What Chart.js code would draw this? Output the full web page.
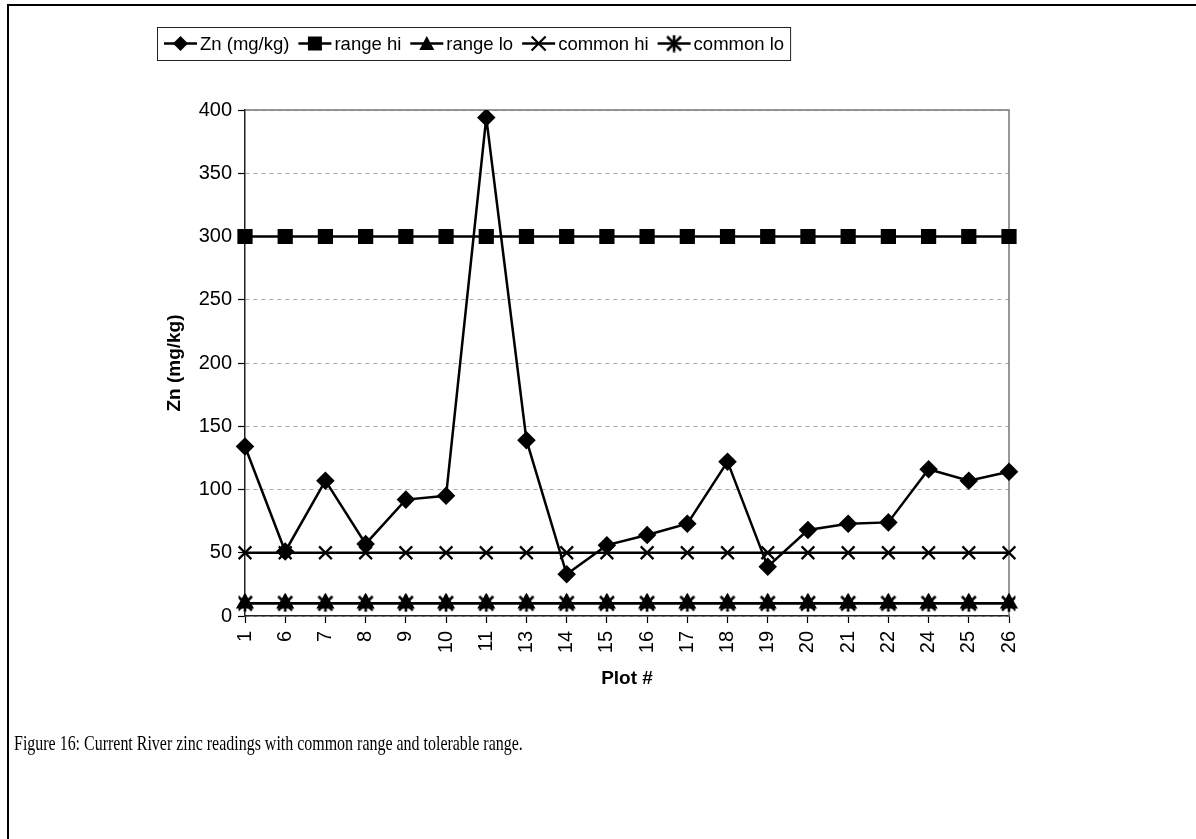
<!DOCTYPE html>
<html><head><meta charset="utf-8">
<script src="https://cdn.jsdelivr.net/npm/chart.js@4/dist/chart.umd.min.js"></script>
<style>
html,body{margin:0;padding:0;background:#fff;}
#wrap{position:relative;width:1196px;height:839px;overflow:hidden;background:#fff;}
#frameTop{position:absolute;left:7px;top:4px;width:1189px;height:2px;background:#000;}
#frameLeft{position:absolute;left:7px;top:4px;width:2px;height:835px;background:#000;}
canvas{position:absolute;left:0;top:0;}
#caption{position:absolute;left:14px;top:731px;font-family:"Liberation Serif","Times New Roman",serif;font-size:21px;white-space:nowrap;transform-origin:left top;transform:scaleX(0.76);color:#000;}
</style></head>
<body><div id="wrap"><div id="frameTop"></div><div id="frameLeft"></div>
<canvas id="c" width="1196" height="839"></canvas>
<div id="caption">Figure 16: Current River zinc readings with common range and tolerable range.</div></div>
<script>
const plots = ['1','6','7','8','9','10','11','13','14','15','16','17','18','19','20','21','22','24','25','26'];
const zn = [134,51,107,57,92,95,394,139,33,56,64,73,122,39,68,73,74,116,107,114];
const rangeHi = [300,300,300,300,300,300,300,300,300,300,300,300,300,300,300,300,300,300,300,300];
const rangeLo = [10,10,10,10,10,10,10,10,10,10,10,10,10,10,10,10,10,10,10,10];
const commonHi = [50,50,50,50,50,50,50,50,50,50,50,50,50,50,50,50,50,50,50,50];
const commonLo = [10,10,10,10,10,10,10,10,10,10,10,10,10,10,10,10,10,10,10,10];
const seriesNames = ['Zn (mg/kg)','range hi','range lo','common hi','common lo'];
const yTicks = [0,50,100,150,200,250,300,350,400];

const FONT = '"Liberation Sans", Arial, sans-serif';

function asteriskCanvas(size){
  const c = document.createElement('canvas');
  c.width = size; c.height = size;
  const g = c.getContext('2d');
  g.strokeStyle = '#000'; g.lineWidth = 2.6;
  const m = 2, s = size;
  g.beginPath();
  g.moveTo(m, m); g.lineTo(s-m, s-m);
  g.moveTo(s-m, m); g.lineTo(m, s-m);
  g.moveTo(s/2, 0.5); g.lineTo(s/2, s-0.5);
  g.stroke();
  return c;
}
const asterisk = asteriskCanvas(18);

const common = {borderColor:'#000', backgroundColor:'#000', borderWidth:2.5, pointBorderColor:'#000', pointBackgroundColor:'#000', tension:0, fill:false};

function drawMarker(ctx, kind, x, y){
  ctx.save();
  ctx.fillStyle = '#000'; ctx.strokeStyle = '#000'; ctx.lineWidth = 2.2;
  ctx.beginPath();
  if (kind === 'diamond'){ const r=7.5; ctx.moveTo(x,y-r); ctx.lineTo(x+r,y); ctx.lineTo(x,y+r); ctx.lineTo(x-r,y); ctx.closePath(); ctx.fill(); }
  else if (kind === 'square'){ ctx.rect(x-7,y-7,14,14); ctx.fill(); }
  else if (kind === 'triangle'){ ctx.moveTo(x,y-7.5); ctx.lineTo(x+7.5,y+6.5); ctx.lineTo(x-7.5,y+6.5); ctx.closePath(); ctx.fill(); }
  else if (kind === 'x'){ const r=7; ctx.moveTo(x-r,y-r); ctx.lineTo(x+r,y+r); ctx.moveTo(x+r,y-r); ctx.lineTo(x-r,y+r); ctx.stroke(); }
  else if (kind === 'ast'){ ctx.drawImage(asterisk, x-9, y-9); }
  ctx.restore();
}

const legendPlugin = {
  id:'excelLegend',
  afterDraw(chart){
    const ctx = chart.ctx;
    const kinds = ['diamond','square','triangle','x','ast'];
    ctx.save();
    ctx.font = '18.5px ' + FONT;
    const boxL = 157, boxT = 27, boxH = 33;
    let x = boxL + 7;
    const cy = boxT + boxH/2;
    const items = [];
    seriesNames.forEach((name,i)=>{
      const w = ctx.measureText(name).width;
      items.push({x, name, kind:kinds[i], w});
      x += 33 + 3 + w + 9;
    });
    const boxR = x - 9 + 6;
    ctx.strokeStyle = '#222'; ctx.lineWidth = 1;
    ctx.strokeRect(boxL+0.5, boxT+0.5, boxR-boxL, boxH);
    items.forEach(it=>{
      ctx.strokeStyle = '#000'; ctx.lineWidth = 2.5;
      ctx.beginPath(); ctx.moveTo(it.x, cy); ctx.lineTo(it.x+33, cy); ctx.stroke();
      drawMarker(ctx, it.kind, it.x+16.5, cy);
      ctx.fillStyle = '#000'; ctx.textBaseline = 'middle'; ctx.textAlign = 'left';
      ctx.fillText(it.name, it.x+36, cy+1);
    });
    ctx.restore();
  }
};

const frameAreaPlugin = {
  id:'plotFrame',
  beforeDatasetsDraw(chart){
    const a = chart.chartArea, ctx = chart.ctx;
    ctx.save();
    ctx.strokeStyle = '#777'; ctx.lineWidth = 1.5;
    ctx.beginPath();
    ctx.moveTo(a.left, a.top); ctx.lineTo(a.right, a.top); ctx.lineTo(a.right, a.bottom);
    ctx.stroke();
    ctx.restore();
  }
};

new Chart(document.getElementById('c'), {
  type:'line',
  data:{
    labels: plots,
    datasets:[
      Object.assign({label:seriesNames[0], data:zn, pointStyle:'rectRot', pointRadius:7.5, order:1}, common),
      Object.assign({label:seriesNames[1], data:rangeHi, pointStyle:'rect', pointRadius:9, order:5}, common),
      Object.assign({label:seriesNames[2], data:rangeLo, pointStyle:'triangle', pointRadius:8, order:4}, common),
      Object.assign({label:seriesNames[3], data:commonHi, pointStyle:'crossRot', pointRadius:9, pointBorderWidth:2.2, order:3}, common),
      Object.assign({label:seriesNames[4], data:commonLo, pointStyle:asterisk, order:2}, common)
    ]
  },
  options:{
    responsive:false, animation:false, devicePixelRatio:1,
    layout:{padding:{left:163, right:187, top:110, bottom:149}},
    plugins:{legend:{display:false}, tooltip:{enabled:false}},
    scales:{
      x:{
        type:'category', offset:false,
        grid:{drawOnChartArea:false, drawTicks:true, tickLength:7, tickColor:'#000', tickWidth:1.2},
        border:{display:true, color:'#222', width:1.5},
        ticks:{font:{family:FONT, size:20}, color:'#000', maxRotation:90, minRotation:90, padding:8, autoSkip:false},
        title:{display:true, text:'Plot #', font:{family:FONT, size:19, weight:'bold'}, color:'#000', padding:{top:0,bottom:0}},
        afterFit(s){ s.height = 74; }
      },
      y:{
        min:0, max:400,
        afterBuildTicks(s){ s.ticks = yTicks.map(v=>({value:v})); },
        grid:{color:'#aaa', lineWidth:1, drawTicks:true, tickLength:7, tickColor:'#000', tickWidth:1.2},
        border:{display:true, color:'#222', width:1.5, dash:[4,4]},
        ticks:{font:{family:FONT, size:20}, color:'#000', padding:6},
        title:{display:true, text:'Zn (mg/kg)', font:{family:FONT, size:19, weight:'bold'}, color:'#000', padding:{top:0,bottom:0}},
        afterFit(s){ s.width = 82; }
      }
    }
  },
  plugins:[legendPlugin, frameAreaPlugin]
});
</script>
</body></html>
